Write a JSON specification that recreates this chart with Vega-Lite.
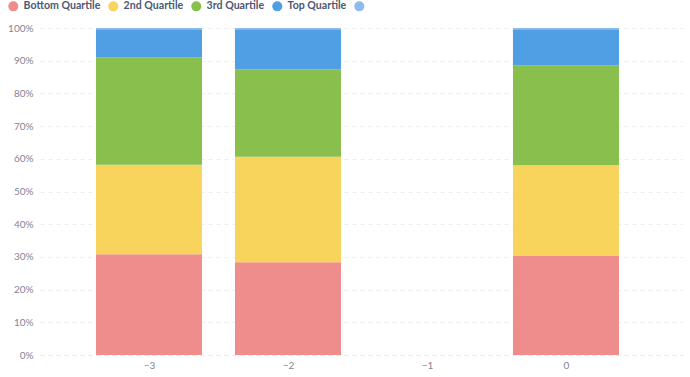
{
  "$schema": "https://vega.github.io/schema/vega-lite/v6.json",
  "autosize": "none",
  "width": 643,
  "height": 327,
  "padding": {"left": 40, "top": 28, "right": 7, "bottom": 22},
  "background": "white",
  "config": {"font": "Lato", "view": {"stroke": null}},
  "data": {
    "values": [
      {"x": -3, "q": "Bottom Quartile", "v": 30.8},
      {"x": -3, "q": "2nd Quartile", "v": 27.4},
      {"x": -3, "q": "3rd Quartile", "v": 32.8},
      {"x": -3, "q": "Top Quartile", "v": 8.6},
      {"x": -3, "q": "Other", "v": 0.4},
      {"x": -2, "q": "Bottom Quartile", "v": 28.4},
      {"x": -2, "q": "2nd Quartile", "v": 32.2},
      {"x": -2, "q": "3rd Quartile", "v": 26.8},
      {"x": -2, "q": "Top Quartile", "v": 12.2},
      {"x": -2, "q": "Other", "v": 0.4},
      {"x": 0, "q": "Bottom Quartile", "v": 30.3},
      {"x": 0, "q": "2nd Quartile", "v": 27.7},
      {"x": 0, "q": "3rd Quartile", "v": 30.5},
      {"x": 0, "q": "Top Quartile", "v": 11.1},
      {"x": 0, "q": "Other", "v": 0.4}
    ]
  },
  "transform": [
    {"calculate": "indexof(['Bottom Quartile','2nd Quartile','3rd Quartile','Top Quartile','Other'], datum.q)", "as": "ord"}
  ],
  "mark": {"type": "bar", "size": 106},
  "encoding": {
    "x": {
      "field": "x",
      "type": "quantitative",
      "scale": {"domain": [-3.784, 0.842], "nice": false, "zero": false, "padding": 0},
      "axis": {
        "title": null,
        "values": [-3, -2, -1, 0],
        "format": "d",
        "grid": false,
        "ticks": false,
        "domain": true,
        "domainColor": "#e6e8ec",
        "domainDash": [4, 4],
        "labelColor": "#7f8497",
        "labelFontSize": 10,
        "labelPadding": 5
      }
    },
    "y": {
      "field": "v",
      "type": "quantitative",
      "stack": "normalize",
      "scale": {"domain": [0, 1], "nice": false},
      "axis": {
        "title": null,
        "format": ".0%",
        "values": [0, 0.1, 0.2, 0.3, 0.4, 0.5, 0.6, 0.7, 0.8, 0.9, 1],
        "domain": false,
        "ticks": false,
        "grid": true,
        "gridColor": "#eceef1",
        "gridDash": [4, 4],
        "labelColor": "#7f8497",
        "labelFontSize": 10,
        "labelPadding": 7
      }
    },
    "order": {"field": "ord", "type": "quantitative"},
    "color": {
      "field": "q",
      "type": "nominal",
      "scale": {
        "domain": ["Bottom Quartile", "2nd Quartile", "3rd Quartile", "Top Quartile", "Other"],
        "range": ["#EF8C8C", "#F9D45C", "#88BF4D", "#509EE3", "#8DBBEB"]
      },
      "legend": {
        "title": null,
        "orient": "none",
        "direction": "horizontal",
        "legendX": -32,
        "legendY": -27,
        "padding": 0,
        "symbolType": "circle",
        "symbolSize": 100,
        "symbolStrokeWidth": 0,
        "symbolOpacity": 1,
        "labelFontSize": 10.6,
        "labelFontWeight": "bold",
        "labelColor": "#4c5773",
        "labelOffset": 5,
        "columnPadding": 7,
        "labelExpr": "datum.label == 'Other' ? '' : datum.label"
      }
    }
  }
}
